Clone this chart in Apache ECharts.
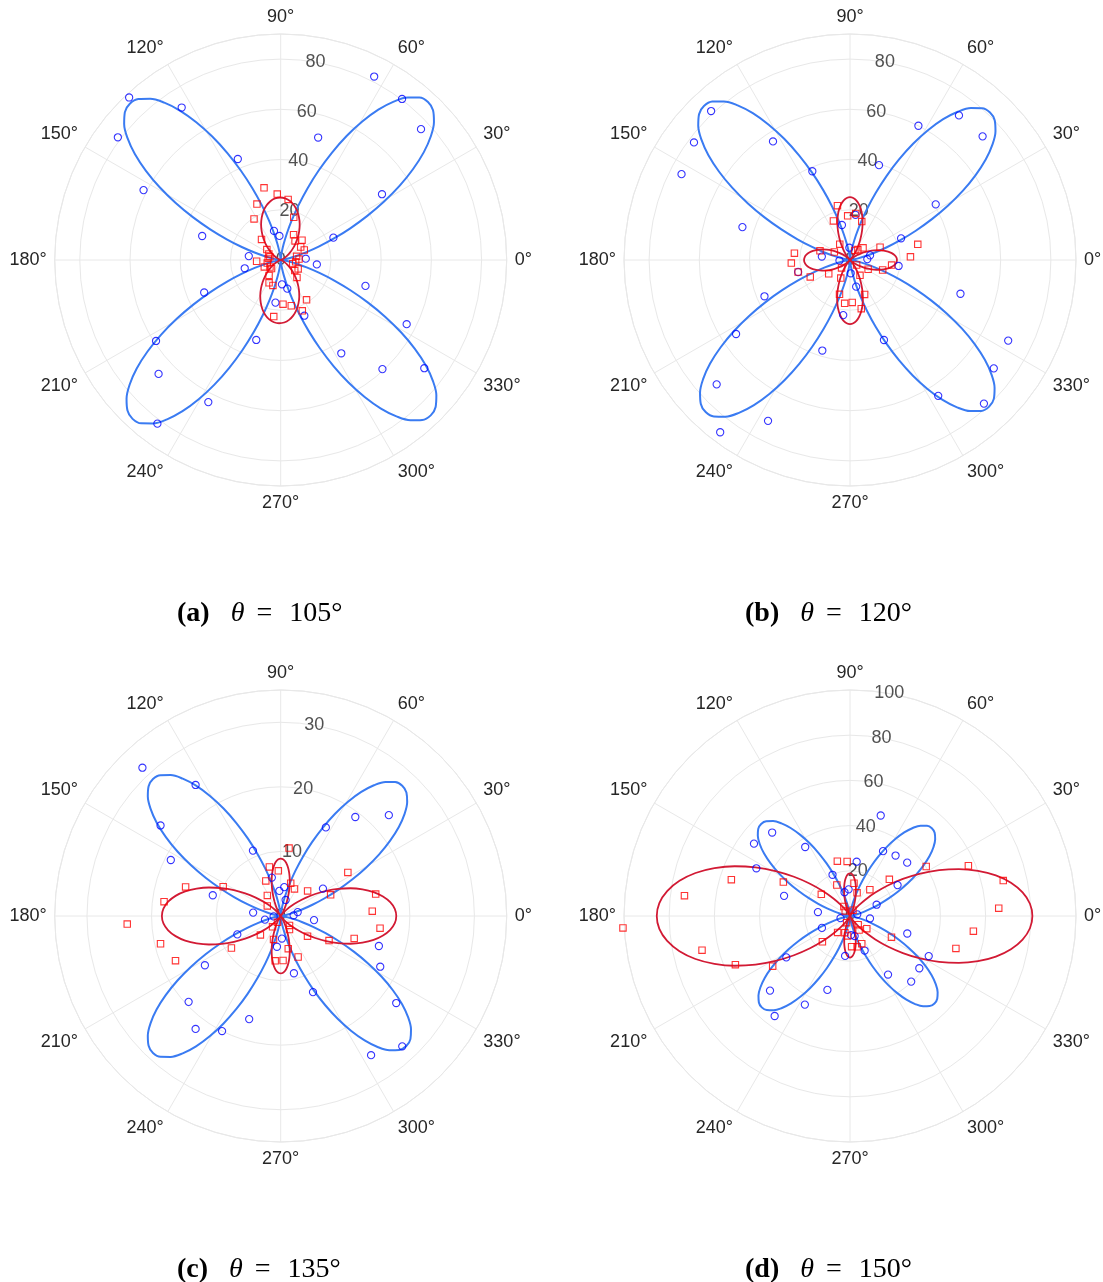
<!DOCTYPE html>
<html>
<head>
<meta charset="utf-8">
<script src="https://cdn.jsdelivr.net/npm/echarts@6/dist/echarts.min.js"></script>
<style>
html,body{margin:0;padding:0;background:#ffffff;}
#chart{width:1103px;height:1282px;}
</style>
</head>
<body>
<div id="chart"></div>
<script>
// ---------- data ----------
// measurement angles (degrees) shared by every panel
const sampleAngles = [3,13,23,33,43,53,63,73,83,93,103,113,123,133,143,153,163,173,183,193,203,213,223,233,243,253,263,273,283,293,303,313,323,333,343,353];

// radius tick labels
const rTicksA = [0,20,40,60,80];
const rTicksB = [0,20,40,60,80];
const rTicksC = [0,10,20,30];
const rTicksD = [0,20,40,60,80,100];

// angular tick labels (degrees)
const angleTicks = [0,30,60,90,120,150,180,210,240,270,300,330];

// measured points (null = hidden in the central cluster)
const blueA = [10.0,null,22.8,48.1,76.4,80.3,82.0,51.0,null,9.6,11.9,43.7,72.4,88.5,81.2,61.3,32.7,12.8,null,14.7,33.1,59.2,66.5,81.6,63.5,33.3,17.1,9.7,11.7,24.1,44.3,59.4,71.6,56.3,35.3,14.5];
const redA  = [7.3,6.5,10.2,9.5,11.6,9.5,11.3,17.8,24.3,26.3,29.5,24.2,19.5,11.2,6.9,5.3,4.5,5.0,9.6,5.5,7.1,5.1,5.0,7.7,10.2,10.6,22.7,17.6,18.7,22.0,18.9,9.5,7.0,7.8,5.0,6.0];

const blueB = [6.9,8.2,22.1,40.7,72.2,72.1,60.0,39.5,18.1,4.9,14.3,38.4,56.3,81.1,77.8,75.3,44.8,11.3,4.2,21.2,37.0,54.1,72.6,85.9,71.9,37.7,22.1,5.3,10.9,34.6,64.5,78.2,71.7,70.7,46.0,19.5];
const redB  = [24.1,27.7,13.0,null,7.1,5.2,4.3,16.0,18.7,17.6,22.2,16.9,7.5,null,null,7.0,12.5,22.3,23.4,21.2,17.2,10.1,4.6,null,8.1,14.3,17.4,16.9,19.9,14.9,7.3,null,3.3,8.1,13.6,16.7];

const blueC = [2.0,2.7,null,7.8,22.9,19.2,15.4,2.6,4.5,3.9,6.1,11.0,24.2,31.4,23.3,19.1,11.0,4.3,1.1,2.5,7.3,14.0,19.5,21.9,20.0,16.7,4.8,3.5,9.1,12.8,25.7,27.6,22.4,17.3,15.9,5.2];
const redC  = [14.2,15.1,8.4,12.4,5.7,null,4.7,5.3,10.6,7.0,7.8,5.9,3.8,null,2.6,10.0,15.4,18.2,23.8,19.1,17.7,9.1,4.3,2.1,1.1,3.8,7.0,6.9,5.2,6.9,2.5,2.0,5.2,8.4,11.9,15.5];

const blueD = [null,3.3,12.8,25.1,34.6,33.5,32.2,46.5,24.2,11.8,10.8,19.8,36.4,50.5,53.2,46.5,30.5,14.3,null,4.3,13.5,33.6,48.4,55.4,44.0,34.2,17.8,8.5,9.1,16.6,30.9,39.7,38.4,39.1,26.5,8.9];
const redD  = [65.9,69.6,56.9,40.2,23.8,14.6,2.9,10.7,14.6,24.2,24.9,14.9,5.0,3.1,15.9,33.1,54.9,73.8,100.6,67.2,55.1,40.8,16.7,9.1,3.3,7.7,8.9,13.6,14.0,13.3,7.4,5.3,9.3,20.6,49.0,55.0];

// fitted curves, read as lobes: axis direction (deg), peak radius, half angular width (deg)
const blueFitAxesA = [47,134,227,314];   const blueFitPeaksA = [86,86.5,86.5,86];   const blueFitHalfA = [45,45,45,45];
const redFitAxesA  = [90.5,268.5];       const redFitPeaksA  = [24.9,25.2];         const redFitHalfA  = [85,85];

const blueFitAxesB = [46.5,133.5,226.5,313.5]; const blueFitPeaksB = [81,84.5,83.5,80.5]; const blueFitHalfB = [45,45,45,45];
const redFitAxesB  = [0,90,180,270];     const redFitPeaksB  = [18.7,25.0,18.3,25.5]; const redFitHalfB = [56,54,62,54];

const blueFitAxesC = [47,133,227,314];   const blueFitPeaksC = [27.6,29.0,29.0,28.0]; const blueFitHalfC = [45,45,45,45];
const redFitAxesC  = [0,90,180,270];     const redFitPeaksC  = [17.9,8.9,18.4,8.9];   const redFitHalfC  = [65,42,65,42];

const blueFitAxesD = [47,134,226,314];   const blueFitPeaksD = [53.1,56.6,56.2,53.8]; const blueFitHalfD = [45,45,45,45];
const redFitAxesD  = [0,90,180,270];     const redFitPeaksD  = [80.7,18.9,85.5,18.4]; const redFitHalfD  = [70,37,70,37];

// lobe profile (fraction of peak), from lobe axis (0) to lobe edge (1)
const lobeProfile = [1,0.989,0.955,0.901,0.830,0.744,0.650,0.550,0.450,0.354,0.266,0.189,0.125,0.075,0.040,0.017,0.005,0.001,0];

// captions
const captionTags = ['(a)','(b)','(c)','(d)'];
const captionValues = ['105°','120°','135°','150°'];

// ---------- layout / style ----------
const SANS = '"Liberation Sans", Helvetica, Arial, sans-serif';
const SERIF = '"Liberation Serif", "Times New Roman", Times, serif';
const GRID = '#e8e8e8';
const TEXT = '#262626';
const BLUE_LINE = '#3a7bf2';
const RED_LINE = '#d21a34';
const BLUE_MARK = '#0000ff';
const RED_MARK = '#ff0000';
const RADIUS_PX = 226;

const panels = [
  {cx:280.7, cy:260, rmax:90,  step:20, ticks:rTicksA, blue:blueA, red:redA,
   bAx:blueFitAxesA, bPk:blueFitPeaksA, bHw:blueFitHalfA, rAx:redFitAxesA, rPk:redFitPeaksA, rHw:redFitHalfA, capX:172, capY:592},
  {cx:850,   cy:260, rmax:90,  step:20, ticks:rTicksB, blue:blueB, red:redB,
   bAx:blueFitAxesB, bPk:blueFitPeaksB, bHw:blueFitHalfB, rAx:redFitAxesB, rPk:redFitPeaksB, rHw:redFitHalfB, capX:740, capY:592},
  {cx:280.7, cy:916, rmax:35,  step:10, ticks:rTicksC, blue:blueC, red:redC,
   bAx:blueFitAxesC, bPk:blueFitPeaksC, bHw:blueFitHalfC, rAx:redFitAxesC, rPk:redFitPeaksC, rHw:redFitHalfC, capX:172, capY:1248},
  {cx:850,   cy:916, rmax:100, step:20, ticks:rTicksD, blue:blueD, red:redD,
   bAx:blueFitAxesD, bPk:blueFitPeaksD, bHw:blueFitHalfD, rAx:redFitAxesD, rPk:redFitPeaksD, rHw:redFitHalfD, capX:740, capY:1248}
];

function lobePoints(axis, peak, half) {
  const n = lobeProfile.length - 1;
  const pts = [];
  for (let j = -n; j <= n; j++) {
    const ang = ((axis + half * j / n) % 360 + 360) % 360;
    pts.push([peak * lobeProfile[Math.abs(j)], ang]);
  }
  return pts;
}

function measured(values) {
  const out = [];
  values.forEach((v, k) => { if (v !== null) out.push([v, sampleAngles[k]]); });
  return out;
}

const polar = [], angleAxis = [], radiusAxis = [], series = [], title = [];

panels.forEach((p, i) => {
  polar.push({center:[p.cx, p.cy], radius: RADIUS_PX});
  angleAxis.push({
    polarIndex:i, type:'value', min:0, max:360, interval:30,
    startAngle:0, clockwise:false,
    axisLine:{show:true, lineStyle:{color:GRID, width:1}},
    axisTick:{show:false},
    axisLabel:{show:true, margin:8, fontSize:18, color:TEXT, fontFamily:SANS,
      formatter:(v)=> angleTicks.indexOf(v) >= 0 ? v + '°' : ''},
    splitLine:{show:true, lineStyle:{color:GRID, width:1}}
  });
  radiusAxis.push({
    polarIndex:i, type:'value', min:0, max:p.rmax, interval:p.step,
    axisLine:{show:false}, axisTick:{show:false}, axisLabel:{show:false},
    splitLine:{show:true, lineStyle:{color:GRID, width:1}}
  });

  // radius tick labels, placed along the 80° direction
  series.push({
    type:'scatter', coordinateSystem:'polar', polarIndex:i, silent:true, clip:false, z:1,
    symbol:'circle', symbolSize:1, itemStyle:{color:'rgba(0,0,0,0)'},
    label:{show:true, position:'inside', fontSize:18, color:TEXT, fontFamily:SANS,
      formatter:(d)=> String(d.value[0])},
    data: p.ticks.map(v => [v, 80])
  });

  // fitted curves
  p.bAx.forEach((ax, k) => {
    series.push({type:'line', coordinateSystem:'polar', polarIndex:i, silent:true, z:2,
      symbol:'none', showSymbol:false, smooth:0.35, clip:false,
      lineStyle:{color:BLUE_LINE, width:2}, data: lobePoints(ax, p.bPk[k], p.bHw[k])});
  });
  p.rAx.forEach((ax, k) => {
    series.push({type:'line', coordinateSystem:'polar', polarIndex:i, silent:true, z:3,
      symbol:'none', showSymbol:false, smooth:0.35, clip:false,
      lineStyle:{color:RED_LINE, width:1.8}, data: lobePoints(ax, p.rPk[k], p.rHw[k])});
  });

  // measured points
  series.push({type:'scatter', coordinateSystem:'polar', polarIndex:i, silent:true, clip:false, z:4,
    symbol:'circle', symbolSize:7.2,
    itemStyle:{color:'rgba(0,0,0,0)', borderColor:BLUE_MARK, borderWidth:1.1},
    data: measured(p.blue)});
  series.push({type:'scatter', coordinateSystem:'polar', polarIndex:i, silent:true, clip:false, z:5,
    symbol:'rect', symbolSize:6.4,
    itemStyle:{color:'rgba(0,0,0,0)', borderColor:RED_MARK, borderWidth:1.1},
    data: measured(p.red)});

  title.push({
    left:p.capX, top:p.capY,
    text:'{b|' + captionTags[i] + '}{t|θ}{e|=}{n|' + captionValues[i] + '}',
    textStyle:{
      fontWeight:'normal',
      rich:{
        b:{fontFamily:SERIF, fontWeight:'bold', fontSize:28, color:'#000', lineHeight:34},
        t:{fontFamily:SERIF, fontWeight:'normal', fontStyle:'italic', fontSize:28, color:'#000', lineHeight:34, padding:[0,0,0,21]},
        e:{fontFamily:SERIF, fontWeight:'normal', fontSize:28, color:'#000', lineHeight:34, padding:[0,17,0,12]},
        n:{fontFamily:SERIF, fontWeight:'normal', fontSize:28, color:'#000', lineHeight:34}
      }
    }
  });
});

const chart = echarts.init(document.getElementById('chart'), null, {renderer:'canvas'});
chart.setOption({
  animation:false,
  backgroundColor:'#ffffff',
  title, polar, angleAxis, radiusAxis, series
});
</script>
</body>
</html>
